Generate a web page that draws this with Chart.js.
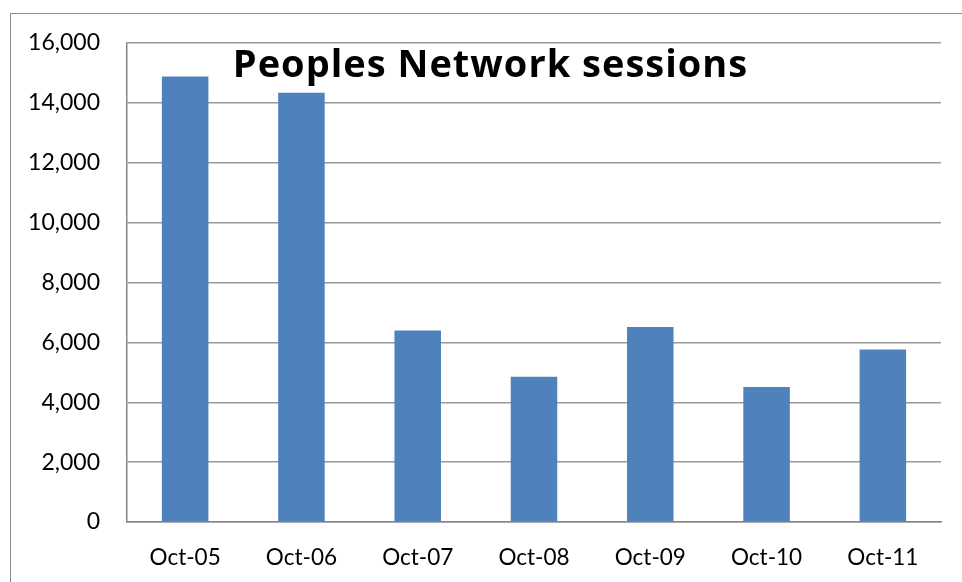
<!DOCTYPE html>
<html lang="en">
<head>
    <meta charset="UTF-8">
    <title>Peoples Network sessions</title>
    <script src="https://cdn.jsdelivr.net/npm/chart.js"></script>
    <style>
        body {
            margin: 0;
            padding: 0;
            background: white;
            overflow: hidden;
        }
        .wrap {
            position: relative;
            width: 962px;
            height: 582px;
        }
        .frame {
            position: absolute;
            left: 10px;
            top: 13px;
            width: 1000px;
            height: 600px;
            border: 1px solid #8c8c8c;
        }
        .title {
            position: absolute;
            left: 0;
            width: 981px;
            top: 36px;
            text-align: center;
            font-family: "Open Sans", sans-serif;
            font-weight: bold;
            font-size: 38px;
            letter-spacing: 1px;
            color: black;
        }
        canvas {
            position: absolute;
            left: 0;
            top: 0;
        }
    </style>
</head>
<body>
<div class="wrap">
    <div class="frame"></div>
    <canvas id="sessionsChart" width="962" height="582"></canvas>
    <div class="title">Peoples Network sessions</div>
</div>
<script>
    const months = ["Oct-05", "Oct-06", "Oct-07", "Oct-08", "Oct-09", "Oct-10", "Oct-11"];
    const sessions = [14880, 14340, 6400, 4850, 6510, 4510, 5760];
    const yTicks = [0, 2000, 4000, 6000, 8000, 10000, 12000, 14000, 16000];

    const ctx = document.getElementById("sessionsChart").getContext("2d");

    new Chart(ctx, {
        type: "bar",
        data: {
            labels: months,
            datasets: [{
                label: "Sessions",
                data: sessions,
                backgroundColor: "#4f81bd",
                barPercentage: 0.4,
                categoryPercentage: 1.0
            }]
        },
        options: {
            responsive: false,
            animation: false,
            layout: { padding: { left: 0, top: 43, right: 21, bottom: 0 } },
            plugins: {
                legend: { display: false },
                tooltip: { enabled: false }
            },
            scales: {
                x: {
                    grid: { display: false, drawTicks: false },
                    border: { color: "#868686", width: 1.5 },
                    ticks: {
                        color: "black",
                        font: { family: "Lato", size: 22.5 },
                        padding: 22,
                        maxRotation: 0
                    },
                    afterFit: (scale) => { scale.height = 60; }
                },
                y: {
                    min: 0,
                    max: 16000,
                    afterBuildTicks: (scale) => { scale.ticks = yTicks.map(v => ({ value: v })); },
                    grid: { color: "#999999", lineWidth: 1.5, drawTicks: false },
                    border: { color: "#868686", width: 1.5 },
                    ticks: {
                        color: "black",
                        font: { family: "Lato", size: 23 },
                        padding: 27,
                        callback: (v) => v.toLocaleString("en-US")
                    },
                    afterFit: (scale) => { scale.width = 127; }
                }
            }
        }
    });
</script>
</body>
</html>
